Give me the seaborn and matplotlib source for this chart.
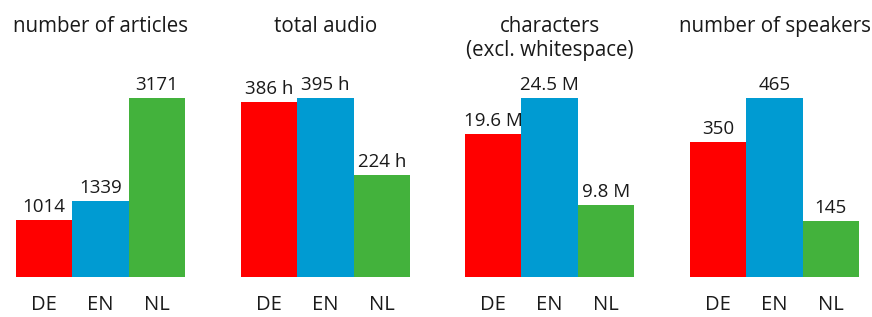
import matplotlib
matplotlib.use("Agg")
import matplotlib.pyplot as plt
import seaborn as sns
import pandas as pd

languages = ["DE", "EN", "NL"]
colors = ["#FF0000", "#009BD2", "#43B23C"]

titles = ["number of articles", "total audio", "characters\n(excl. whitespace)", "number of speakers"]
articles = [1014, 1339, 3171]
audio_hours = [386, 395, 224]
characters_m = [19.6, 24.5, 9.8]
speakers = [350, 465, 145]

article_labels = ["1014", "1339", "3171"]
audio_labels = ["386 h", "395 h", "224 h"]
char_labels = ["19.6 M", "24.5 M", "9.8 M"]
speaker_labels = ["350", "465", "145"]

series = [articles, audio_hours, characters_m, speakers]
labels = [article_labels, audio_labels, char_labels, speaker_labels]

sns.set_theme(style="white")
plt.rcParams["font.family"] = ["Open Sans", "DejaVu Sans"]
text_color = "#1a1a1a"

W, H = 872, 317
fig = plt.figure(figsize=(W / 100, H / 100), dpi=100)

lefts = [16, 241, 465, 690]
panel_w = 169
bottom_px = 277
top_px = 98

for i in range(4):
    ax = fig.add_axes([lefts[i] / W, (H - bottom_px) / H, panel_w / W, (bottom_px - top_px) / H])
    df = pd.DataFrame({"lang": languages, "value": series[i]})
    sns.barplot(data=df, x="lang", y="value", hue="lang", palette=colors,
                width=1.0, ax=ax, legend=False, saturation=1)
    ax.set_xlim(-0.5, 2.5)
    ax.set_ylim(0, max(series[i]))
    for c, lab in zip(ax.containers, labels[i]):
        ax.bar_label(c, labels=[lab], padding=3, fontsize=13.5, color=text_color)
    for c in ax.containers:
        for p in c:
            p.set_linewidth(0)
            p.set_clip_on(False)
    ax.set_xlabel("")
    ax.set_ylabel("")
    ax.set_yticks([])
    ax.tick_params(axis="x", length=0, pad=13, labelsize=14.5, labelcolor=text_color)
    for s in ax.spines.values():
        s.set_visible(False)
    ax.patch.set_alpha(0)
    fig.text((lefts[i] + panel_w / 2) / W, 1 - 16 / H, titles[i], ha="center", va="top",
             fontsize=14.8, color=text_color, linespacing=1.2)

fig.savefig("out.png", dpi=100)
